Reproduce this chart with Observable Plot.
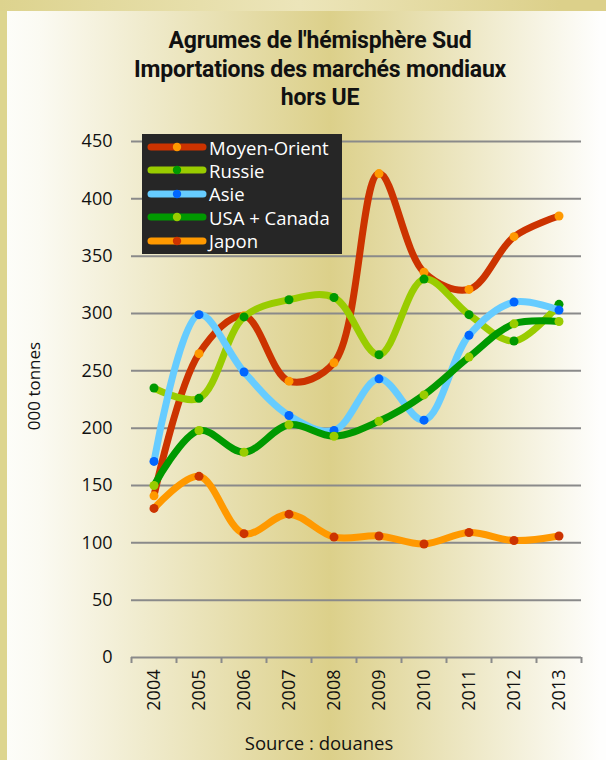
<!DOCTYPE html>
<html><head><meta charset="utf-8">
<script src="https://cdn.jsdelivr.net/npm/d3@7"></script>
<script src="https://cdn.jsdelivr.net/npm/@observablehq/plot@0.6"></script>
<style>
body{margin:0;}
#wrap{position:relative;width:606px;height:760px;overflow:hidden;
 background:linear-gradient(to right,#ddd58f 0,#ddd58f 7px,#fdfdf9 7px,#fbfaf2 40px,#dcd08a 330px,#fefefd 600px);
 font-family:"Open Sans",sans-serif;color:#111;}
#topbar{position:absolute;left:0;top:0;width:606px;height:11px;
 background:linear-gradient(to right,#ddd38e 0,#ece5ba 300px,#dcd08a 560px);}
#title{position:absolute;left:0;width:640px;top:27px;text-align:center;font-family:Roboto,sans-serif;font-weight:bold;font-size:23px;line-height:28.5px;letter-spacing:-0.2px;}
#chart{position:absolute;left:0;top:0;}
#ylab{position:absolute;left:33px;top:386px;transform:translate(-50%,-50%) rotate(-90deg);font-size:17px;white-space:nowrap;}
#source{position:absolute;left:0;width:638px;top:731px;text-align:center;font-size:18.5px;line-height:24px;}
#legend{position:absolute;left:142px;top:134px;width:200px;height:120px;background:#262626;color:#fff;}
.row{position:absolute;left:0;height:24px;display:flex;align-items:center;font-size:18.5px;}
.row svg{margin-left:5px;margin-right:2px;}
</style></head>
<body>
<div id="wrap">
 <div id="topbar"></div>
 <div id="title">Agrumes de l'hémisphère Sud<br>Importations des marchés mondiaux<br>hors UE</div>
 <div id="chart"></div>
 <div id="ylab">000 tonnes</div>
 <div id="source">Source : douanes</div>
 <div id="legend"></div>
</div>
<script>
const years = [2004, 2005, 2006, 2007, 2008, 2009, 2010, 2011, 2012, 2013];
const seriesNames = ["Moyen-Orient", "Russie", "Asie", "USA + Canada", "Japon"];
const moyenOrient = [141, 265, 298, 241, 257, 422, 336, 321, 367, 385];
const russie      = [235, 226, 297, 312, 314, 264, 330, 299, 276, 308];
const asie        = [171, 299, 249, 211, 198, 243, 207, 281, 310, 303];
const usaCanada   = [150, 198, 179, 203, 193, 206, 229, 262, 291, 293];
const japon       = [130, 158, 108, 125, 105, 106,  99, 109, 102, 106];
const yTicks = [0, 50, 100, 150, 200, 250, 300, 350, 400, 450];

const lineColors = ["#cc3300", "#99cc00", "#66ccff", "#009900", "#ff9900"];
const dotColors  = ["#ff9900", "#009900", "#0066ff", "#99cc00", "#cc3300"];

const allValues = [moyenOrient, russie, asie, usaCanada, japon];
const rows = allValues.map((vals, i) => years.map((yr, j) => ({year: yr, value: vals[j], series: seriesNames[i]})));
const bounds = years.map(y => y - 0.5).concat([years[years.length - 1] + 0.5]);

const marks = [
  Plot.gridY(yTicks, {stroke: "#8a8a8a", strokeOpacity: 1, strokeWidth: 2}),
  Plot.axisY(yTicks, {tickSize: 0, tickPadding: 19, fontSize: 18, label: null}),
  Plot.axisX(bounds, {tickSize: 6, stroke: "#8a8a8a", strokeWidth: 2, tickFormat: () => "", label: null}),
  Plot.axisX(years, {tickSize: 0, tickPadding: 12, tickRotate: -90, fontSize: 18, tickFormat: d => String(d), label: null})
];
rows.forEach((r, i) => {
  marks.push(Plot.line(r, {x: "year", y: "value", stroke: lineColors[i], strokeWidth: 7, curve: "catmull-rom", strokeLinecap: "round", strokeLinejoin: "round"}));
  marks.push(Plot.dot(r, {x: "year", y: "value", r: 4.5, fill: dotColors[i], stroke: "none"}));
});

const chart = Plot.plot({
  width: 606, height: 760,
  marginTop: 141, marginBottom: 103, marginLeft: 131, marginRight: 25,
  x: {type: "linear", domain: [bounds[0], bounds[bounds.length - 1]]},
  y: {domain: [0, 450]},
  style: {background: "transparent", fontFamily: "Open Sans", color: "#111", overflow: "visible"},
  marks
});
document.getElementById("chart").appendChild(chart);

// legend
const legend = document.getElementById("legend");
seriesNames.forEach((name, i) => {
  const row = document.createElement("div");
  row.className = "row";
  row.style.top = (1 + i * 23.4) + "px";
  row.innerHTML = `<svg width="60" height="12"><line x1="4" y1="6" x2="56" y2="6" stroke="${lineColors[i]}" stroke-width="7" stroke-linecap="round"/><circle cx="30" cy="6" r="4.2" fill="${dotColors[i]}"/></svg><span>${name}</span>`;
  legend.appendChild(row);
});
</script>
</body></html>
